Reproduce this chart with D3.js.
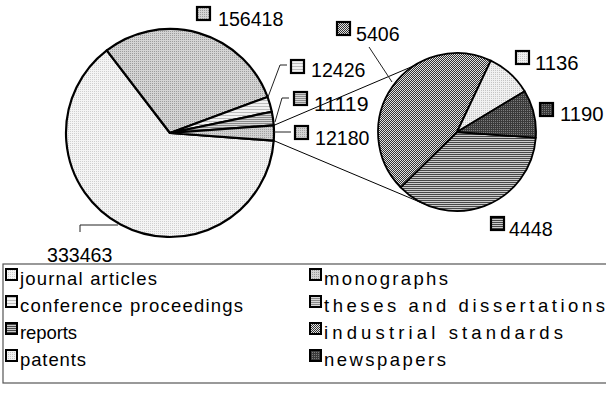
<!DOCTYPE html>
<html>
<head>
<meta charset="utf-8">
<script src="https://cdn.jsdelivr.net/npm/d3@7"></script>
<style>
  html, body { margin: 0; padding: 0; background: #fff; }
  svg { display: block; font-family: "Liberation Sans", Arial, sans-serif; }
</style>
</head>
<body>
<svg id="chart" width="606" height="400"></svg>
<script>
// ---- data ----
const mainCategories = ["journal articles", "monographs", "conference proceedings", "theses and dissertations", "other"];
const mainValues = [333463, 156418, 12426, 11119, 12180];
const subCategories = ["reports", "industrial standards", "patents", "newspapers"];
const subValues = [4448, 5406, 1136, 1190];
const legendLabels = ["journal articles", "monographs", "conference proceedings", "theses and dissertations",
                      "reports", "industrial standards", "patents", "newspapers"];

// ---- patterns (fill styles) ----
const svg = d3.select("#chart");
const defs = svg.append("defs");
function dotPattern(id, base, dot) {
  const p = defs.append("pattern").attr("id", id).attr("patternUnits", "userSpaceOnUse").attr("width", 2).attr("height", 2);
  p.append("rect").attr("width", 2).attr("height", 2).attr("fill", base);
  p.append("rect").attr("width", 1).attr("height", 1).attr("fill", dot);
}
function linePattern(id, a, b, h) {
  const p = defs.append("pattern").attr("id", id).attr("patternUnits", "userSpaceOnUse").attr("width", 4).attr("height", h);
  p.append("rect").attr("width", 4).attr("height", h).attr("fill", a);
  p.append("rect").attr("width", 4).attr("height", 1).attr("fill", b);
}
function checkPattern(id, a, b) {
  const p = defs.append("pattern").attr("id", id).attr("patternUnits", "userSpaceOnUse").attr("width", 2).attr("height", 2);
  p.append("rect").attr("width", 2).attr("height", 2).attr("fill", a);
  p.append("rect").attr("width", 1).attr("height", 1).attr("fill", b);
  p.append("rect").attr("x", 1).attr("y", 1).attr("width", 1).attr("height", 1).attr("fill", b);
}
dotPattern("p-journal", "#f4f4f4", "#cfcfcf");
dotPattern("p-mono", "#d4d4d4", "#9c9c9c");
linePattern("p-conf", "#f2f2f2", "#bcbcbc", 3);
linePattern("p-thes", "#d8d8d8", "#8a8a8a", 2);
dotPattern("p-other", "#d2d2d2", "#a2a2a2");
linePattern("p-reports", "#cccccc", "#474747", 2);
checkPattern("p-std", "#e2e2e2", "#333333");
dotPattern("p-patents", "#f0f0f0", "#c4c4c4");
dotPattern("p-news", "#3a3a3a", "#7c7c7c");

const fillOf = {
  "journal articles": "url(#p-journal)", "monographs": "url(#p-mono)",
  "conference proceedings": "url(#p-conf)", "theses and dissertations": "url(#p-thes)",
  "other": "url(#p-other)", "reports": "url(#p-reports)", "industrial standards": "url(#p-std)",
  "patents": "url(#p-patents)", "newspapers": "url(#p-news)"
};

// ---- main pie ----
const mainC = [170, 133], mainR = 104;
const subC = [457, 132], subR = 79;
const deg = Math.PI / 180;
const mainTotal = d3.sum(mainValues);
const otherAngle = mainValues[4] / mainTotal * 2 * Math.PI;
const mainStart = Math.PI / 2 + otherAngle / 2;
const mainPie = d3.pie().sort(null).value(d => d.v).startAngle(mainStart).endAngle(mainStart + 2 * Math.PI);
const mainArcs = mainPie(mainCategories.map((c, i) => ({ c, v: mainValues[i] })));
const mainArc = d3.arc().innerRadius(0).outerRadius(mainR);

const gMain = svg.append("g").attr("transform", `translate(${mainC})`);
gMain.selectAll("path").data(mainArcs).join("path")
  .attr("d", mainArc).attr("fill", d => fillOf[d.data.c])
  .attr("stroke", "#000").attr("stroke-width", 2.2).attr("stroke-linejoin", "round");

// ---- sub pie ----
const subStart = 94.1 * deg;
const subPie = d3.pie().sort(null).value(d => d.v).startAngle(subStart).endAngle(subStart + 2 * Math.PI);
const subArcs = subPie(subCategories.map((c, i) => ({ c, v: subValues[i] })));
const subArc = d3.arc().innerRadius(0).outerRadius(subR);
const gSub = svg.append("g").attr("transform", `translate(${subC})`);
gSub.selectAll("path").data(subArcs).join("path")
  .attr("d", subArc).attr("fill", d => fillOf[d.data.c])
  .attr("stroke", "#000").attr("stroke-width", 1.8).attr("stroke-linejoin", "round");

// ---- connector lines ----
const otherArc = mainArcs[4];
const pMainTop = d3.pointRadial(otherArc.startAngle, mainR).map((v, i) => v + mainC[i]);
const pMainBot = d3.pointRadial(otherArc.endAngle, mainR).map((v, i) => v + mainC[i]);
const pSubTop = d3.pointRadial(-33 * deg, subR).map((v, i) => v + subC[i]);
const pSubBot = d3.pointRadial(203 * deg, subR).map((v, i) => v + subC[i]);
const line = d3.line();
svg.append("path").attr("d", line([pMainTop, pSubTop])).attr("stroke", "#000").attr("stroke-width", 1).attr("fill", "none");
svg.append("path").attr("d", line([pMainBot, pSubBot])).attr("stroke", "#000").attr("stroke-width", 1).attr("fill", "none");

// ---- data labels ----
const labelLayout = {
  "journal articles":        { key: null,      text: [47, 262],  leader: [[80, 232], [80, 225], [118, 225]] },
  "monographs":              { key: [197, 7],  text: [218, 26],  leader: null },
  "conference proceedings":  { key: [291, 60], text: [311, 77],  leader: [[268, 97], [280, 65], [287, 65]] },
  "theses and dissertations":{ key: [294, 92], text: [314, 111], leader: [[275, 122], [282, 98], [289, 98]] },
  "other":                   { key: [295, 126],text: [315, 145], leader: [[274, 132], [291, 132]] },
  "industrial standards":    { key: [337, 22], text: [356, 41],  leader: [[369, 47], [392, 82]] },
  "patents":                 { key: [516, 51], text: [535, 70],  leader: null },
  "newspapers":              { key: [540, 103],text: [560, 121], leader: null },
  "reports":                 { key: [491, 217],text: [509, 236], leader: null }
};
const allLabels = mainCategories.map((c, i) => ({ c, v: mainValues[i] }))
  .concat(subCategories.map((c, i) => ({ c, v: subValues[i] })));
const gLab = svg.append("g");
allLabels.forEach(d => {
  const L = labelLayout[d.c];
  if (L.leader) gLab.append("path").attr("d", line(L.leader)).attr("fill", "none").attr("stroke", "#222").attr("stroke-width", 1);
  if (L.key) gLab.append("rect").attr("x", L.key[0]).attr("y", L.key[1]).attr("width", 13).attr("height", 13)
    .attr("fill", fillOf[d.c]).attr("stroke", "#000").attr("stroke-width", 2.2);
  gLab.append("text").attr("x", L.text[0]).attr("y", L.text[1]).attr("font-size", 20.5).attr("fill", "#000")
    .attr("textLength", String(d.v).length * 10.9).attr("lengthAdjust", "spacingAndGlyphs").text(d.v);
});

// ---- legend ----
const legendBox = { x: 3, y: 264, w: 610, h: 119 };
const legendWidths = {
  "journal articles": 137, "monographs": 124, "conference proceedings": 223, "theses and dissertations": 281,
  "reports": 57, "industrial standards": 239, "patents": 66, "newspapers": 122
};
svg.append("rect").attr("x", legendBox.x).attr("y", legendBox.y).attr("width", legendBox.w).attr("height", legendBox.h)
  .attr("fill", "none").attr("stroke", "#555").attr("stroke-width", 1.2);
const colX = [6, 310], rowY0 = 269, rowH = 27;
const gLeg = svg.append("g");
legendLabels.forEach((name, i) => {
  const col = i % 2, row = Math.floor(i / 2);
  const x = colX[col], y = rowY0 + row * rowH;
  gLeg.append("rect").attr("x", x).attr("y", y).attr("width", 11).attr("height", 11)
    .attr("fill", fillOf[name]).attr("stroke", "#000").attr("stroke-width", 2);
  gLeg.append("text").attr("x", x + 14).attr("y", y + 16).attr("font-size", 18.5)
    .attr("textLength", legendWidths[name]).attr("lengthAdjust", "spacing").text(name);
});
</script>
</body>
</html>
